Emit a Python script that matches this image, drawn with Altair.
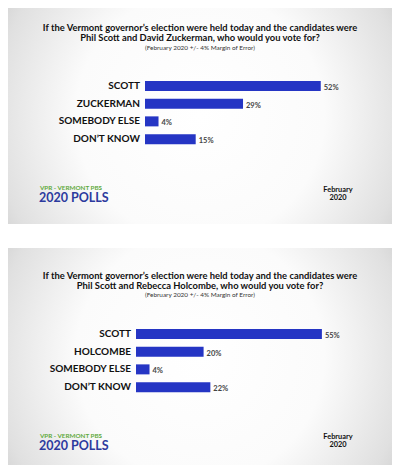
import altair as alt
import pandas as pd

# ---- data ----
categories_1 = ["SCOTT", "ZUCKERMAN", "SOMEBODY ELSE", "DON\u2019T KNOW"]
values_1 = [52, 29, 4, 15]
labels_1 = ["52%", "29%", "4%", "15%"]
title_1 = ["If the Vermont governor\u2019s election were held today and the candidates were",
           "Phil Scott and David Zuckerman, who would you vote for?"]

categories_2 = ["SCOTT", "HOLCOMBE", "SOMEBODY ELSE", "DON\u2019T KNOW"]
values_2 = [55, 20, 4, 22]
labels_2 = ["55%", "20%", "4%", "22%"]
title_2 = ["If the Vermont governor\u2019s election were held today and the candidates were",
           "Phil Scott and Rebecca Holcombe, who would you vote for?"]

subtitle = "(February 2020 +/- 4% Margin of Error)"
brand_small = "VPR - VERMONT PBS"
brand_big = "2020 POLLS"
date_lines = ["February", "2020"]

FONT = "Lato"
W = 384
BAR_BLUE = "#2535c4"


def panel(cats, vals, labs, title_lines, h, bar_x0, label_x, y_top, bar_centers, logo_y, date_y, sub_y):
    df = pd.DataFrame({"cat": cats, "value": vals, "label": labs})
    one = pd.DataFrame({"k": [0]})
    xs = alt.Scale(domain=[0, 100], range=[bar_x0, bar_x0 + 338])
    ys = alt.Scale(type="point", domain=cats, range=bar_centers)

    bg = alt.Chart(one).mark_rect(
        fill={"gradient": "radial", "x1": 0.5, "y1": 0.5, "r1": 0.0,
              "x2": 0.5, "y2": 0.5, "r2": 0.72,
              "stops": [{"offset": 0, "color": "#ffffff"},
                        {"offset": 0.45, "color": "#fbfbfb"},
                        {"offset": 0.75, "color": "#e0e0e0"},
                        {"offset": 1, "color": "#bababa"}]}
    ).encode(x=alt.value(0), x2=alt.value(W), y=alt.value(0), y2=alt.value(h))

    t1 = alt.Chart(one).mark_text(text=title_lines[0], font=FONT, fontWeight="bold", fontSize=9.4,
                                  color="#111", align="center", baseline="middle"
                                  ).encode(x=alt.value(W / 2), y=alt.value(y_top))
    t2 = alt.Chart(one).mark_text(text=title_lines[1], font=FONT, fontWeight="bold", fontSize=9.4,
                                  color="#111", align="center", baseline="middle"
                                  ).encode(x=alt.value(W / 2), y=alt.value(y_top + 9.5))
    st = alt.Chart(one).mark_text(text=subtitle, font=FONT, fontSize=6.4, color="#333",
                                  align="center", baseline="middle"
                                  ).encode(x=alt.value(W / 2), y=alt.value(sub_y))

    bars = alt.Chart(df).mark_bar(size=10, color=BAR_BLUE).encode(
        x=alt.X("value:Q", scale=xs, axis=None),
        y=alt.Y("cat:N", scale=ys, axis=None, sort=cats),
    )
    vlab = alt.Chart(df).mark_text(font=FONT, fontSize=7.5, fontWeight="bold", color="#444",
                                   align="left", baseline="middle", dx=3, dy=2).encode(
        x=alt.X("value:Q", scale=xs, axis=None),
        y=alt.Y("cat:N", scale=ys, axis=None, sort=cats),
        text="label:N",
    )
    clab = alt.Chart(df).mark_text(font=FONT, fontSize=10, fontWeight="bold", color="#111",
                                   align="right", baseline="middle").encode(
        x=alt.value(label_x),
        y=alt.Y("cat:N", scale=ys, axis=None, sort=cats),
        text="cat:N",
    )

    b1 = alt.Chart(one).mark_text(text=brand_small, font=FONT, fontWeight="bold", fontSize=6.3,
                                  color="#5faa3c", align="left", baseline="middle"
                                  ).encode(x=alt.value(32), y=alt.value(logo_y))
    b2 = alt.Chart(one).mark_text(text=brand_big, font=FONT, fontWeight="bold", fontSize=12.5,
                                  color="#2c3a9e", align="left", baseline="middle"
                                  ).encode(x=alt.value(31), y=alt.value(logo_y + 9.5))
    d1 = alt.Chart(one).mark_text(text=date_lines[0], font=FONT, fontWeight="bold", fontSize=7.4,
                                  color="#111", align="center", baseline="middle"
                                  ).encode(x=alt.value(330), y=alt.value(date_y))
    d2 = alt.Chart(one).mark_text(text=date_lines[1], font=FONT, fontWeight="bold", fontSize=7.4,
                                  color="#111", align="center", baseline="middle"
                                  ).encode(x=alt.value(330), y=alt.value(date_y + 8))

    return alt.layer(bg, t1, t2, st, bars, vlab, clab, b1, b2, d1, d2).properties(width=W, height=h)


p1 = panel(categories_1, values_1, labels_1, title_1, 216, 137, 132, 20, [69, 140], 180, 182, 39.5)
p2 = panel(categories_2, values_2, labels_2, title_2, 217, 128, 123, 28, [77, 148], 188, 189, 46.5)

chart = alt.vconcat(p1, p2, spacing=24).properties(padding=0, background="#ffffff").configure_view(
    strokeWidth=0)

chart.save("out.html", embed_options={"renderer": "svg", "actions": False})
